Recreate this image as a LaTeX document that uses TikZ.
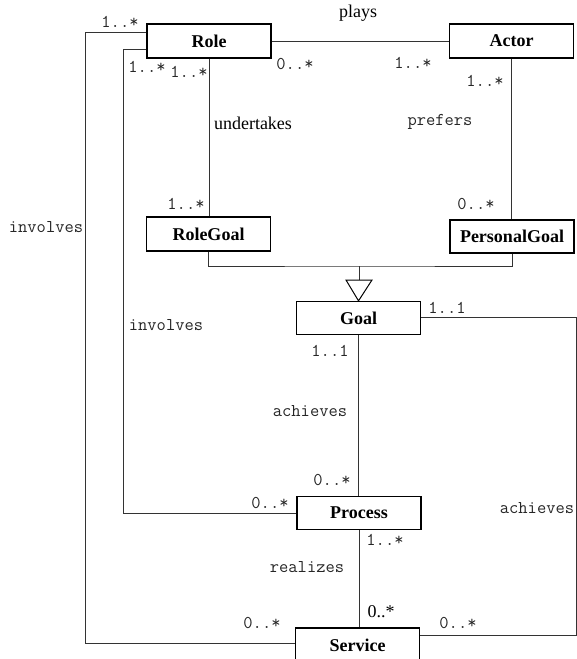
\documentclass[tikz,border=0pt]{standalone}
\usepackage{fontspec}
\setmainfont{Liberation Serif}
\begin{document}
\begin{tikzpicture}[x=1pt,y=-1pt,
  cls/.style={draw=black, line width=1.3pt, fill=white, inner sep=0pt,
    minimum width=124pt, minimum height=34pt,
    font=\fontsize{18}{20}\selectfont\bfseries},
  link/.style={draw=black!80, line width=1pt},
  mult/.style={inner sep=0pt, text=black!85, font=\fontsize{18}{20}\selectfont\ttfamily},
  lab/.style={inner sep=0pt, text=black!85, font=\fontsize{18}{20}\selectfont\ttfamily},
  slab/.style={inner sep=0pt, text=black, font=\fontsize{18}{20}\selectfont}]
\useasboundingbox (0,0) rectangle (577,659);
\begin{scope}
\clip (0,0) rectangle (577,659);

% classes
\node[cls] (role)   at (209,41)    {Role};
\node[cls] (actor)  at (511.5,41)  {Actor};
\node[cls] (rgoal)  at (208.5,234) {RoleGoal};
\node[cls, minimum height=33pt] (pgoal) at (512,236.5) {PersonalGoal};
\node[cls, minimum height=33pt] (goal)  at (358.5,318) {Goal};
\node[cls, minimum height=33pt] (proc)  at (359,513)   {Process};
\node[cls] (serv)   at (357.5,645) {Service};

% routing points
\coordinate (outerTop) at (85,32);
\coordinate (outerBot) at (85,643);
\coordinate (innerTop) at (123,49);
\coordinate (genJoin)  at (359,266);
\coordinate (triTop)   at (359,280);
\coordinate (triL)     at (346,280);
\coordinate (triR)     at (372,280);
\coordinate (rightTop) at (576,317);
\coordinate (rightBot) at (576,635);

% associations
\draw[link] (role.east) -- (actor.west);
\draw[link] ([yshift=9pt]role.west) -- (outerTop) -- (outerBot) -- ([yshift=2pt]serv.west);
\draw[link] ([yshift=-8pt]role.west) -- (innerTop) |- (proc.west);
\draw[link] (role.south) -- (role.south |- rgoal.north);
\draw[link] (actor.south) -- (actor.south |- pgoal.north);
\draw[link] (goal.south) -- (goal.south |- proc.north);
\draw[link] (proc.south) -- (proc.south |- serv.north);
\draw[link] ([yshift=1pt]goal.east) -- (rightTop) -- (rightBot) -- ([yshift=10pt]serv.east);

% generalisation
\draw[link] (rgoal.south) |- (genJoin) -| (pgoal.south);
\draw[link] (genJoin) -- (triTop);
\draw[black, line width=1pt, fill=white] (triL) -- (triR) -- (goal.north) -- cycle;

% association names
\node[slab] (tPlays) at (358,13)  {plays};
\node[slab] (tUnder) at (253,123) {undertakes};
\node[lab]  (tPref)  at (440,122) {prefers};
\node[lab]  (tInv1)  at (46,227)  {involves};
\node[lab]  (tInv2)  at (166,325) {involves};
\node[lab]  (tAch1)  at (310,411) {achieves};
\node[lab]  (tAch2)  at (537,508) {achieves};
\node[lab]  (tReal)  at (307,567) {realizes};

% multiplicities
\node[mult] (m1)  at (120,22)  {1..*};
\node[mult] (m2)  at (147,67)  {1..*};
\node[mult] (m3)  at (189,72)  {1..*};
\node[mult] (m4)  at (295,64)  {0..*};
\node[mult] (m5)  at (413,63)  {1..*};
\node[mult] (m6)  at (485,81)  {1..*};
\node[mult] (m7)  at (186,204) {1..*};
\node[mult] (m8)  at (476,204) {0..*};
\node[mult] (m9)  at (447,308) {1..1};
\node[mult] (m10) at (330,351) {1..1};
\node[mult] (m11) at (332,480) {0..*};
\node[mult] (m12) at (270,503) {0..*};
\node[mult] (m13) at (385,540) {1..*};
\node[slab] (m14) at (381,612) {0..*};
\node[mult] (m15) at (262,623) {0..*};
\node[mult] (m16) at (458,623) {0..*};
\end{scope}
\end{tikzpicture}
\end{document}
